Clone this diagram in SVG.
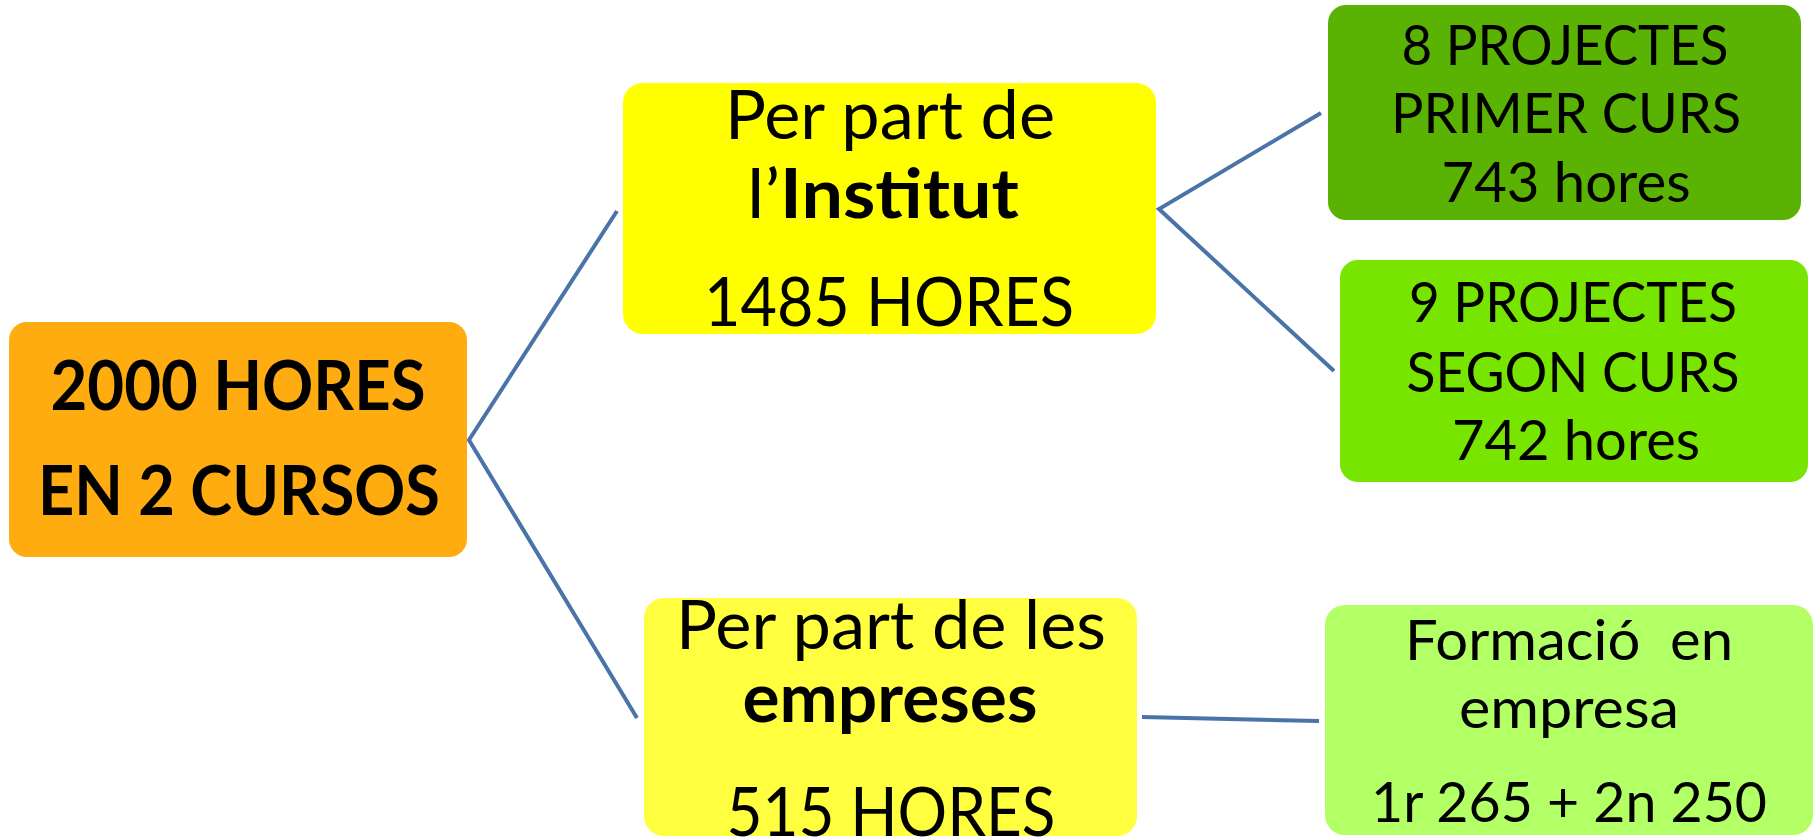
<svg xmlns="http://www.w3.org/2000/svg" width="1816" height="838" viewBox="0 0 1816 838">
<style>
text{font-family:Lato,"Liberation Sans",sans-serif;fill:#000;text-anchor:middle}
.b{font-weight:bold}
.big{font-size:68px}
.sm{font-size:57px}
.conn{stroke:#4A74A8;stroke-width:4;fill:none;stroke-linecap:butt}
</style>
<rect width="1816" height="838" fill="#fff"/>
<g id="connectors">
<polyline class="conn" points="617,211 469,440 637,718"/>
<polyline class="conn" points="1321,113 1159,209 1334,371"/>
<line class="conn" x1="1142" y1="717" x2="1319" y2="721" stroke-width="4.5"/>
</g>
<g id="root">
<rect x="9" y="322" width="458" height="235" rx="18" fill="#FEAC10"/>
<text class="b" x="238" y="410" font-size="68" textLength="375" lengthAdjust="spacingAndGlyphs">2000 HORES</text>
<text class="b" x="239" y="515" font-size="68" textLength="402" lengthAdjust="spacingAndGlyphs">EN 2 CURSOS</text>
</g>
<g id="institut">
<rect x="623" y="83" width="533" height="251" rx="20" fill="#FFFF00"/>
<text class="big" x="890" y="139" textLength="330" lengthAdjust="spacingAndGlyphs">Per part de</text>
<text class="big" x="883" y="218" textLength="272" lengthAdjust="spacingAndGlyphs">l’<tspan class="b">Institut</tspan></text>
<text class="big" x="889" y="326" textLength="370" lengthAdjust="spacingAndGlyphs">1485 HORES</text>
</g>
<g id="empreses">
<rect x="644" y="598" width="493" height="238" rx="20" fill="#FFFF40"/>
<text class="big" x="891" y="649" textLength="430" lengthAdjust="spacingAndGlyphs">Per part de les</text>
<text class="big b" x="890" y="722" textLength="295" lengthAdjust="spacingAndGlyphs">empreses</text>
<text class="big" x="891" y="836" textLength="329" lengthAdjust="spacingAndGlyphs">515 HORES</text>
</g>
<g id="primer">
<rect x="1328" y="5" width="473" height="215" rx="18" fill="#5AB203"/>
<text class="sm" x="1565" y="65" textLength="327" lengthAdjust="spacingAndGlyphs">8 PROJECTES</text>
<text class="sm" x="1566" y="133" textLength="350" lengthAdjust="spacingAndGlyphs">PRIMER CURS</text>
<text class="sm" x="1566" y="202" textLength="249" lengthAdjust="spacingAndGlyphs">743 hores</text>
</g>
<g id="segon">
<rect x="1340" y="260" width="468" height="222" rx="18" fill="#77E500"/>
<text class="sm" x="1573" y="322" textLength="328" lengthAdjust="spacingAndGlyphs">9 PROJECTES</text>
<text class="sm" x="1573" y="392" textLength="333" lengthAdjust="spacingAndGlyphs">SEGON CURS</text>
<text class="sm" x="1576" y="460" textLength="248" lengthAdjust="spacingAndGlyphs">742 hores</text>
</g>
<g id="formacio">
<rect x="1325" y="605" width="488" height="230" rx="20" fill="#B2FF66"/>
<text class="sm" x="1569" y="660" xml:space="preserve" textLength="328" lengthAdjust="spacingAndGlyphs">Formació  en</text>
<text class="sm" x="1569" y="728" textLength="220" lengthAdjust="spacingAndGlyphs">empresa</text>
<text class="sm" x="1569" y="822" textLength="396" lengthAdjust="spacingAndGlyphs">1r 265 + 2n 250</text>
</g>
</svg>
